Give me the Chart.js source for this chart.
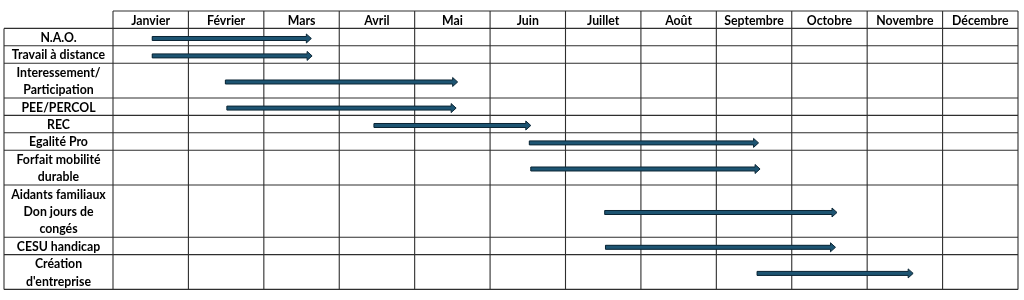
<!DOCTYPE html>
<html>
<head>
<meta charset="utf-8">
<script src="https://cdn.jsdelivr.net/npm/chart.js@4"></script>
<style>
html,body{margin:0;padding:0;background:#fff;}
#wrap{width:1024px;height:300px;position:relative;}
</style>
</head>
<body>
<div id="wrap"><canvas id="c" width="1024" height="300"></canvas></div>
<script>
const months = ['Janvier','Février','Mars','Avril','Mai','Juin','Juillet','Août','Septembre','Octobre','Novembre','Décembre'];
const rowLabels = [
  ['N.A.O.'],
  ['Travail à distance'],
  ['Interessement/','Participation'],
  ['PEE/PERCOL'],
  ['REC'],
  ['Egalité Pro'],
  ['Forfait mobilité','durable'],
  ['Aidants familiaux','Don jours de','congés'],
  ['CESU handicap'],
  ['Création',"d'entreprise"]
];
// start / end in months (0 = start of January)
const starts = [0.52, 0.52, 1.49, 1.51, 3.46, 5.52, 5.54, 6.52, 6.53, 8.54];
const ends   = [2.63, 2.64, 4.57, 4.55, 5.54, 8.56, 8.58, 9.60, 9.58, 10.61];

// row boundaries in line units (header = 1 unit)
const bounds = [0, 1];
rowLabels.forEach(l => bounds.push(bounds[bounds.length - 1] + l.length));
const totalUnits = bounds[bounds.length - 1];
const centers = rowLabels.map((l, i) => (bounds[i + 1] + bounds[i + 2]) / 2 + 0.08);

const FILL = '#1d5472';
const EDGE = '#0c2635';
const LINE = '#2e2e2e';
const FONT = 'bold 12.3px Lato, "DejaVu Sans", sans-serif';
const TABLE_LEFT = 4;

const datasets = rowLabels.map((l, i) => ({
  label: l.join(' '),
  data: [{x: starts[i], y: centers[i]}, {x: ends[i] - 0.05, y: centers[i]}],
  borderColor: FILL,
  borderWidth: 4,
  pointRadius: 0,
  showLine: true,
  borderCapStyle: 'butt'
}));

const tablePlugin = {
  id: 'table',
  beforeDatasetsDraw(chart) {
    const {ctx, scales: {x, y}} = chart;
    ctx.save();
    ctx.strokeStyle = LINE;
    ctx.lineWidth = 1.1;
    for (let m = 0; m <= months.length; m++) {
      const px = x.getPixelForValue(m);
      ctx.beginPath();
      ctx.moveTo(px, y.getPixelForValue(0));
      ctx.lineTo(px, y.getPixelForValue(totalUnits));
      ctx.stroke();
    }
    ctx.beginPath();
    ctx.moveTo(TABLE_LEFT, y.getPixelForValue(1));
    ctx.lineTo(TABLE_LEFT, y.getPixelForValue(totalUnits));
    ctx.stroke();
    bounds.forEach((b, i) => {
      const py = y.getPixelForValue(b);
      ctx.beginPath();
      ctx.moveTo(i === 0 ? x.getPixelForValue(0) : TABLE_LEFT, py);
      ctx.lineTo(x.getPixelForValue(months.length), py);
      ctx.stroke();
    });
    ctx.fillStyle = '#000';
    ctx.font = FONT;
    ctx.textAlign = 'center';
    ctx.textBaseline = 'middle';
    months.forEach((m, i) => {
      ctx.fillText(m, x.getPixelForValue(i + 0.5), y.getPixelForValue(0.5) + 1);
    });
    const labelX = (TABLE_LEFT + x.getPixelForValue(0)) / 2;
    rowLabels.forEach((lines, i) => {
      lines.forEach((t, k) => {
        ctx.fillText(t, labelX, y.getPixelForValue(bounds[i + 1] + k + 0.5) + 1);
      });
    });
    ctx.restore();
  },
  afterDatasetsDraw(chart) {
    const {ctx, scales: {x, y}} = chart;
    ctx.save();
    ctx.fillStyle = FILL;
    ctx.strokeStyle = EDGE;
    ctx.lineWidth = 1;
    rowLabels.forEach((l, i) => {
      const meta = chart.getDatasetMeta(i);
      const p0 = meta.data[0];
      const tip = x.getPixelForValue(ends[i]);
      const yy = p0.y;
      const x0 = p0.x;
      const hb = tip - 5;
      ctx.beginPath();
      ctx.moveTo(x0, yy - 2);
      ctx.lineTo(hb, yy - 2);
      ctx.lineTo(hb, yy - 4.5);
      ctx.lineTo(tip, yy);
      ctx.lineTo(hb, yy + 4.5);
      ctx.lineTo(hb, yy + 2);
      ctx.lineTo(x0, yy + 2);
      ctx.closePath();
      ctx.fill();
      ctx.stroke();
    });
    ctx.restore();
  }
};

new Chart(document.getElementById('c'), {
  type: 'scatter',
  data: {datasets},
  options: {
    responsive: false,
    animation: false,
    events: [],
    layout: {padding: {left: 113, right: 6, top: 11, bottom: 10.6}},
    plugins: {legend: {display: false}, tooltip: {enabled: false}},
    scales: {
      x: {type: 'linear', min: 0, max: months.length, display: false},
      y: {type: 'linear', min: 0, max: totalUnits, reverse: true, display: false}
    }
  },
  plugins: [tablePlugin]
});
</script>
</body>
</html>
